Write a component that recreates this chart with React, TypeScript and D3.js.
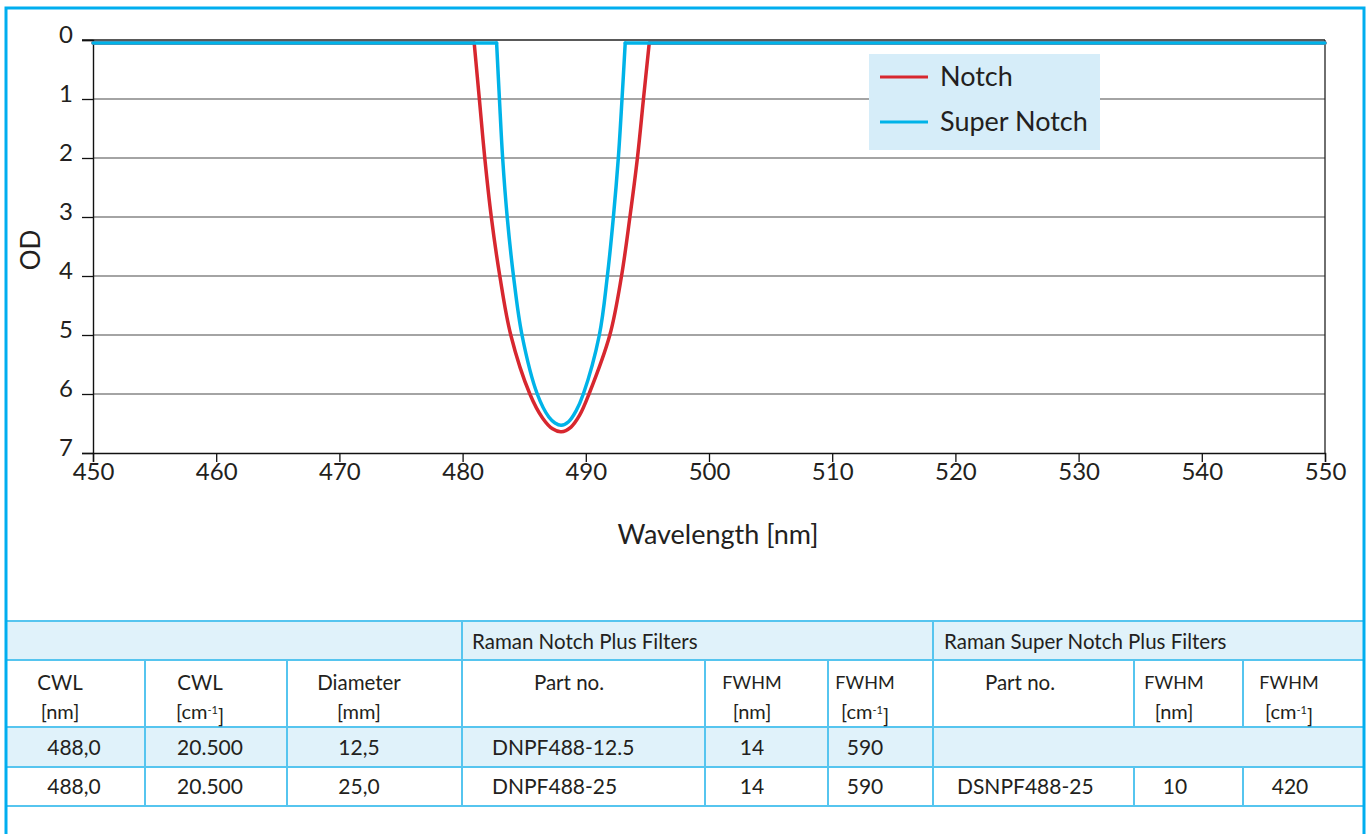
import React, { useRef, useEffect } from 'react';
import * as d3 from 'd3';

// curve values (wavelength nm, optical density)
const notchWl = [450, 480.94, 481.36, 481.8, 482.33, 483.02, 483.91, 485.46, 486.5, 487.3, 488.0, 488.8, 489.5, 490.26, 491.95, 492.9, 493.58, 494.19, 494.68, 495.15, 550];
const notchOd = [0.05, 0.05, 1, 2, 3, 4, 5, 6, 6.41, 6.59, 6.64, 6.56, 6.36, 6, 5, 4, 3, 2, 1, 0.05, 0.05];
const superWl = [450, 482.76, 482.99, 483.25, 483.62, 484.13, 484.82, 486.06, 487.0, 487.5, 488.0, 488.6, 489.2, 489.8, 491.1, 491.75, 492.24, 492.64, 492.94, 493.2, 550];
const superOd = [0.05, 0.05, 1, 2, 3, 4, 5, 6, 6.39, 6.49, 6.53, 6.47, 6.29, 6, 5, 4, 3, 2, 1, 0.05, 0.05];

const xTicks = [450, 460, 470, 480, 490, 500, 510, 520, 530, 540, 550];
const yTicks = [0, 1, 2, 3, 4, 5, 6, 7];
const seriesNames = ['Notch', 'Super Notch'];
const seriesColors = ['#d7272f', '#00b3e8'];

// table content
const groupHeaders = ['', 'Raman Notch Plus Filters', 'Raman Super Notch Plus Filters'];
const headLine1 = ['CWL', 'CWL', 'Diameter', 'Part no.', 'FWHM', 'FWHM', 'Part no.', 'FWHM', 'FWHM'];
const headLine2 = ['[nm]', '[cm-1]', '[mm]', '', '[nm]', '[cm-1]', '', '[nm]', '[cm-1]'];
const rowSmall = ['488,0', '20.500', '12,5', 'DNPF488-12.5', '14', '590'];
const rowLarge = ['488,0', '20.500', '25,0', 'DNPF488-25', '14', '590', 'DSNPF488-25', '10', '420'];

const W = 1368;
const H = 834;
const FONT = 'Lato, "Open Sans", sans-serif';
const TXT = '#231f20';
const BORDER = '#00aeef';
const TLINE = '#56c5ef';
const TFILL = '#e0f2fa';

const App: React.FC = () => {
  const ref = useRef<SVGSVGElement | null>(null);

  useEffect(() => {
    if (!ref.current) return;
    const svg = d3.select(ref.current);
    svg.selectAll('*').remove();

    const x = d3.scaleLinear().domain([450, 550]).range([93, 1325]);
    const y = d3.scaleLinear().domain([0, 7]).range([40, 453]);

    svg.append('rect').attr('width', W).attr('height', H).attr('fill', '#fff');

    // gridlines
    svg.append('g')
      .selectAll('line')
      .data(yTicks.slice(1, -1))
      .enter()
      .append('line')
      .attr('x1', x(450)).attr('x2', x(550))
      .attr('y1', (d) => y(d)).attr('y2', (d) => y(d))
      .attr('stroke', '#4a4a4a').attr('stroke-width', 1.2);

    // top and right frame of plot
    svg.append('line').attr('x1', x(450) - 11).attr('x2', x(550)).attr('y1', y(0)).attr('y2', y(0))
      .attr('stroke', '#222').attr('stroke-width', 1.3);
    svg.append('line').attr('x1', x(550)).attr('x2', x(550)).attr('y1', y(0)).attr('y2', y(7))
      .attr('stroke', '#222').attr('stroke-width', 1.3);

    // axes
    const yAxis = svg.append('g').attr('transform', `translate(${x(450)},0)`)
      .call(d3.axisLeft(y).tickValues(yTicks).tickSize(11).tickPadding(9).tickFormat(d3.format('d')));
    const xAxis = svg.append('g').attr('transform', `translate(0,${y(7)})`)
      .call(d3.axisBottom(x).tickValues(xTicks).tickSize(9).tickPadding(1).tickFormat(d3.format('d')));
    [yAxis, xAxis].forEach((g) => {
      g.select('.domain').attr('stroke', '#111').attr('stroke-width', 1.4);
      g.selectAll('.tick line').attr('stroke', '#111').attr('stroke-width', 1.3);
      g.selectAll('.tick text').attr('fill', TXT).style('font-family', FONT).style('font-size', '24px').style('font-weight', 400);
    });
    yAxis.selectAll('.tick text').attr('dy', '0.1em');

    svg.append('text').attr('x', 718).attr('y', 544).attr('text-anchor', 'middle')
      .attr('fill', TXT).style('font-family', FONT).style('font-size', '27px').style('font-weight', 400)
      .text('Wavelength [nm]');
    svg.append('text').attr('transform', 'translate(40,250) rotate(-90)').attr('text-anchor', 'middle')
      .attr('fill', TXT).style('font-family', FONT).style('font-size', '26px').style('font-weight', 400)
      .text('OD');

    // curves: flat shoulders straight, notch itself smoothed
    const line = d3.line<[number, number]>()
      .x((d) => x(d[0]))
      .y((d) => y(d[1]));
    const smooth = d3.line<[number, number]>()
      .x((d) => x(d[0]))
      .y((d) => y(d[1]))
      .curve(d3.curveCatmullRom.alpha(0.5));
    const series = [
      notchWl.map((w, i) => [w, notchOd[i]] as [number, number]),
      superWl.map((w, i) => [w, superOd[i]] as [number, number]),
    ];
    series.forEach((pts, i) => {
      const n = pts.length;
      const g = svg.append('g').attr('fill', 'none').attr('stroke', seriesColors[i])
        .attr('stroke-width', 3.5).attr('stroke-linejoin', 'round').attr('stroke-linecap', 'round');
      g.append('path').attr('d', line(pts.slice(0, 2)));
      g.append('path').attr('d', smooth(pts.slice(1, n - 1)));
      g.append('path').attr('d', line(pts.slice(n - 2)));
    });

    // legend
    const lg = svg.append('g').attr('transform', 'translate(869,54)');
    lg.append('rect').attr('width', 231).attr('height', 96).attr('fill', '#d6edf9');
    seriesNames.forEach((name, i) => {
      const yy = 23 + i * 45;
      lg.append('line').attr('x1', 11).attr('x2', 59).attr('y1', yy).attr('y2', yy)
        .attr('stroke', seriesColors[i]).attr('stroke-width', 3);
      lg.append('text').attr('x', 71).attr('y', yy).attr('dy', '0.35em').attr('fill', TXT)
        .style('font-family', FONT).style('font-size', '27px').style('font-weight', 400).text(name);
    });

    // table
    const cols = [5, 145, 287, 462, 705, 828, 933, 1134, 1243, 1364];
    const rows = [621, 660, 727, 767, 806];
    const headX = [60, 200, 359, 569, 752, 865, 1020, 1174, 1289];
    const dataX = [74, 210, 359, 492, 752, 865, 957, 1175, 1290];
    const dataAnchor = ['middle', 'middle', 'middle', 'start', 'middle', 'middle', 'start', 'middle', 'middle'];
    const tb = svg.append('g');
    tb.append('rect').attr('x', cols[0]).attr('y', rows[0]).attr('width', cols[9] - cols[0]).attr('height', rows[1] - rows[0]).attr('fill', TFILL);
    tb.append('rect').attr('x', cols[0]).attr('y', rows[2]).attr('width', cols[9] - cols[0]).attr('height', rows[3] - rows[2]).attr('fill', TFILL);
    rows.forEach((r) => {
      tb.append('line').attr('x1', cols[0]).attr('x2', cols[9]).attr('y1', r).attr('y2', r).attr('stroke', TLINE).attr('stroke-width', 2);
    });
    // vertical dividers: group row only at group bounds
    [cols[3], cols[6]].forEach((c) => {
      tb.append('line').attr('x1', c).attr('x2', c).attr('y1', rows[0]).attr('y2', rows[1]).attr('stroke', TLINE).attr('stroke-width', 2);
    });
    cols.slice(1, -1).forEach((c, i) => {
      const ci = i + 1;
      tb.append('line').attr('x1', c).attr('x2', c).attr('y1', rows[1]).attr('y2', rows[2]).attr('stroke', TLINE).attr('stroke-width', 2);
      tb.append('line').attr('x1', c).attr('x2', c).attr('y1', rows[3]).attr('y2', rows[4]).attr('stroke', TLINE).attr('stroke-width', 2);
      if (ci <= rowSmall.length) {
        tb.append('line').attr('x1', c).attr('x2', c).attr('y1', rows[2]).attr('y2', rows[3]).attr('stroke', TLINE).attr('stroke-width', 2);
      }
    });

    const cellText = (g: any, xx: number, yy: number, s: string, size: number, anchor: string) => {
      const t = g.append('text').attr('x', xx).attr('y', yy).attr('dy', '0.35em').attr('text-anchor', anchor)
        .attr('fill', TXT).style('font-family', FONT).style('font-size', `${size}px`);
      if (s.includes('-1]')) {
        t.append('tspan').text('[cm');
        t.append('tspan').attr('dy', '-0.45em').style('font-size', `${size * 0.55}px`).text('-1');
        t.append('tspan').attr('dy', '0.45em').text(']');
      } else {
        t.text(s);
      }
    };

    cellText(tb, cols[3] + 10, 642, groupHeaders[1], 20.5, 'start');
    cellText(tb, cols[6] + 11, 642, groupHeaders[2], 20.5, 'start');
    headLine1.forEach((s, i) => {
      const size = s === 'FWHM' ? 18 : 20.5;
      cellText(tb, headX[i], 683, s, size, 'middle');
      if (headLine2[i]) cellText(tb, headX[i], 712, headLine2[i], 20, 'middle');
    });
    rowSmall.forEach((s, i) => cellText(tb, dataX[i], 748, s, 21, dataAnchor[i]));
    rowLarge.forEach((s, i) => cellText(tb, dataX[i], 787, s, 21, dataAnchor[i]));

    // outer frame
    svg.append('path').attr('d', `M6,${H + 5}V8H1364V${H + 5}`).attr('fill', 'none')
      .attr('stroke', BORDER).attr('stroke-width', 3);
  }, []);

  return (
    <svg ref={ref} width={W} height={H} style={{ position: 'absolute', left: 0, top: 0 }} />
  );
};

export default App;
